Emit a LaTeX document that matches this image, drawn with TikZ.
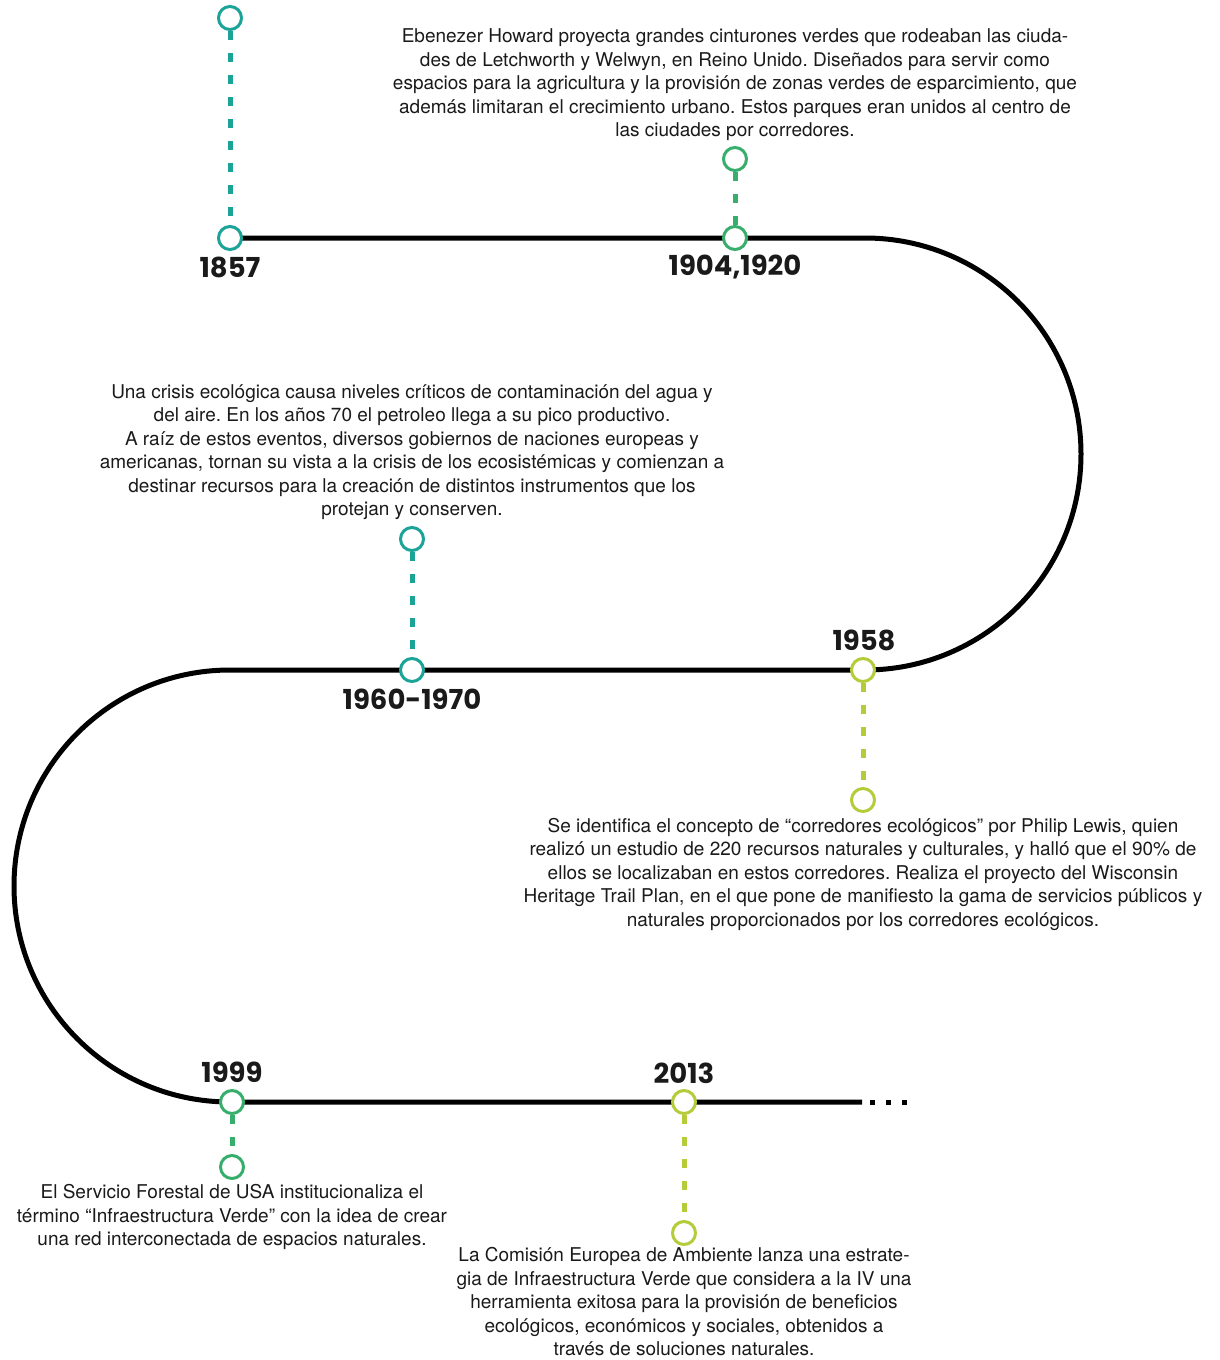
\documentclass[tikz,border=0pt]{standalone}
\usepackage{fontspec}
\setmainfont{TeX Gyre Heros}
\newfontfamily\yearfont{Poppins}
\definecolor{cteal}{HTML}{1AA396}
\definecolor{cgreen}{HTML}{38AE6C}
\definecolor{clime}{HTML}{B5CB3A}
\definecolor{ink}{HTML}{1A1A1A}
\frenchspacing
\begin{document}
\begin{tikzpicture}[x=1pt,y=-1pt,
  mainline/.style={line width=5pt,black},
  milestone/.style={circle,draw,fill=white,line width=3pt,minimum size=23pt,inner sep=0pt},
  stem/.style={line width=5pt,dash pattern=on 9pt off 13pt},
  yearlabel/.style={font=\yearfont\bfseries\fontsize{27.5}{30}\selectfont,text=ink,inner sep=0pt},
  note/.style={font=\fontsize{19}{23.5}\selectfont,text=ink,align=center,inner sep=0pt}]
\useasboundingbox (0,0) rectangle (1220,1360);

% winding timeline
\coordinate (topL) at (230,238);
\coordinate (topR) at (865,238);
\coordinate (midR) at (865,670);
\coordinate (midL) at (230,670);
\coordinate (botL) at (230,1102);
\coordinate (botR) at (862,1102);
\coordinate (dotsEnd) at (908,1102);
\draw[mainline] (topL) -- (topR) arc[start angle=-90,end angle=90,radius=216]
  -- (midL) arc[start angle=270,end angle=90,radius=216] -- (botR);
\draw[line width=5pt,dash pattern=on 5pt off 11pt] ([xshift=8pt]botR) -- (dotsEnd);

% milestones
\node[milestone,draw=cteal]  (m1857)  at (230,238) {};
\node[milestone,draw=cteal]  (t1857)  at (230,18) {};
\node[milestone,draw=cgreen] (m1904)  at (735,238) {};
\node[milestone,draw=cgreen] (t1904)  at (735,159) {};
\node[milestone,draw=cteal]  (m1960)  at (412,670) {};
\node[milestone,draw=cteal]  (t1960)  at (412,539) {};
\node[milestone,draw=clime]  (m1958)  at (863,670) {};
\node[milestone,draw=clime]  (t1958)  at (863,800) {};
\node[milestone,draw=cgreen] (m1999)  at (232,1102) {};
\node[milestone,draw=cgreen] (t1999)  at (232,1167) {};
\node[milestone,draw=clime]  (m2013)  at (684,1102) {};
\node[milestone,draw=clime]  (t2013)  at (684,1233) {};

\draw[stem,cteal]  (t1857) -- (m1857);
\draw[stem,cgreen] (t1904) -- (m1904);
\draw[stem,cteal]  (t1960) -- (m1960);
\draw[stem,clime]  (m1958) -- (t1958);
\draw[stem,cgreen] (m1999) -- (t1999);
\draw[stem,clime]  (m2013) -- (t2013);

% years
\node[yearlabel] (y1857) at (230,267) {1857};
\node[yearlabel] (y1904) at (735,267) {1904,1920};
\node[yearlabel] (y1960) at (412,699) {1960-1970};
\node[yearlabel] (y1958) at (864,640) {1958};
\node[yearlabel] (y1999) at (232,1072) {1999};
\node[yearlabel] (y2013) at (684,1073) {2013};

% descriptions
\node[note] (d1904) at (735,85) {Ebenezer Howard proyecta grandes cinturones verdes que rodeaban las ciuda-\\
des de Letchworth y Welwyn, en Reino Unido. Diseñados para servir como\\
espacios para la agricultura y la provisión de zonas verdes de esparcimiento, que\\
además limitaran el crecimiento urbano. Estos parques eran unidos al centro de\\
las ciudades por corredores.};

\node[note] (d1960) at (412,452) {Una crisis ecológica causa niveles críticos de contaminación del agua y\\
del aire. En los años 70 el petroleo llega a su pico productivo.\\
A raíz de estos eventos, diversos gobiernos de naciones europeas y\\
americanas, tornan su vista a la crisis de los ecosistémicas y comienzan a\\
destinar recursos para la creación de distintos instrumentos que los\\
protejan y conserven.};

\node[note] (d1958) at (863,874) {Se identifica el concepto de “corredores ecológicos” por Philip Lewis, quien\\
realizó un estudio de 220 recursos naturales y culturales, y halló que el 90\% de\\
ellos se localizaban en estos corredores. Realiza el proyecto del Wisconsin\\
Heritage Trail Plan, en el que pone de manifiesto la gama de servicios públicos y\\
naturales proporcionados por los corredores ecológicos.};

\node[note] (d1999) at (232,1217) {El Servicio Forestal de USA institucionaliza el\\
término “Infraestructura Verde” con la idea de crear\\
una red interconectada de espacios naturales.};

\node[note] (d2013) at (684,1302) {La Comisión Europea de Ambiente lanza una estrate-\\
gia de Infraestructura Verde que considera a la IV una\\
herramienta exitosa para la provisión de beneficios\\
ecológicos, económicos y sociales, obtenidos a\\
través de soluciones naturales.};
\end{tikzpicture}
\end{document}
